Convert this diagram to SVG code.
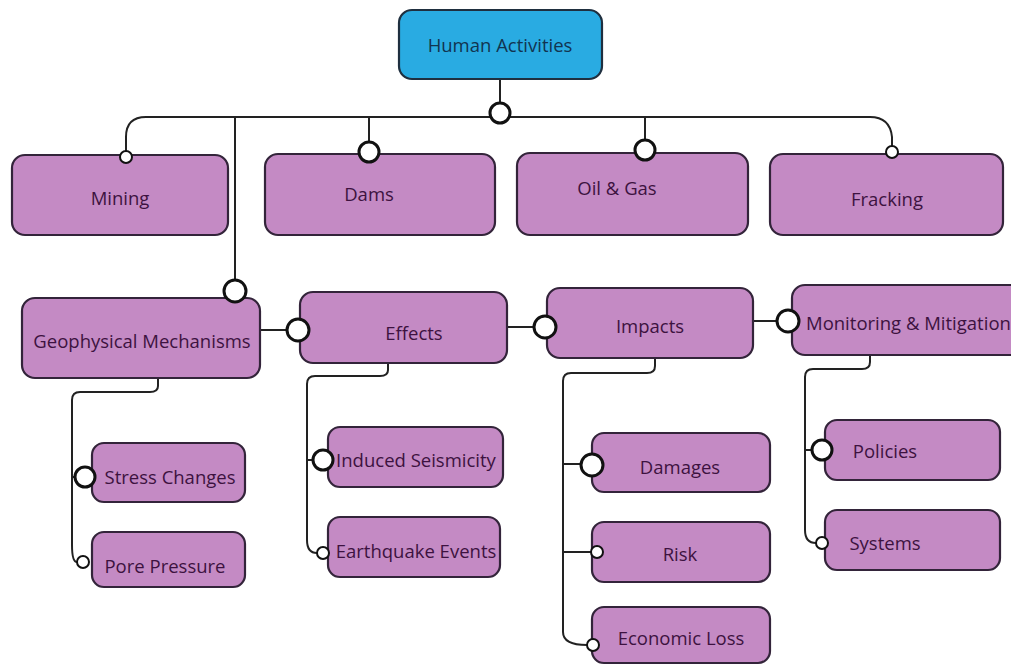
<svg xmlns="http://www.w3.org/2000/svg" width="1011" height="666" viewBox="0 0 1011 666">
<style>
.n{fill:#c48ac4;stroke:#33243a;stroke-width:2.2}
.r{fill:#29abe2;stroke:#1f2f3f;stroke-width:2.2}
.t{font-family:"Open Sans","Noto Sans",sans-serif;font-size:18.5px;fill:#3d1240;text-anchor:middle;dominant-baseline:central}
.th{fill:#123450}
.c{fill:none;stroke:#222;stroke-width:2}
.o{fill:#fff;stroke:#111;stroke-width:3}
.os{fill:#fff;stroke:#111;stroke-width:2}
</style>
<rect width="1011" height="666" fill="#fff"/>
<g id="connectors">
<path class="c" d="M500 79 V103"/>
<path class="c" d="M126 151 V137 Q126 117 146 117 H870 Q890 117 892 137 V146"/>
<path class="c" d="M235 117 V280"/>
<path class="c" d="M369 117 V142"/>
<path class="c" d="M645 117 V140"/>
<path class="c" d="M260 330 H287"/>
<path class="c" d="M507 327 H534"/>
<path class="c" d="M753 321 H777"/>
<path class="c" d="M158 378 V386 Q158 392 150 392 H80 Q72 392 72 400 V545 Q72 562 77 562"/>
<path class="c" d="M72 477 H75"/>
<path class="c" d="M388 363 V370 Q388 376 380 376 H315 Q307 376 307 384 V540 Q307 553 317 553"/>
<path class="c" d="M307 460 H313"/>
<path class="c" d="M655 358 V366 Q655 373 647 373 H571 Q563 373 563 381 V632 Q563 645 587 645"/>
<path class="c" d="M563 464 H581"/>
<path class="c" d="M563 552 H591"/>
<path class="c" d="M870 355 V362 Q870 369 862 369 H813 Q805 369 805 377 V530 Q805 543 816 543"/>
<path class="c" d="M805 450 H812"/>
</g>
<g id="human-activities"><rect class="r" x="399" y="10" width="203" height="69" rx="13"/><text class="t th" x="500" y="44">Human Activities</text></g>
<g id="mining"><rect class="n" x="12" y="155" width="216" height="80" rx="13"/><text class="t" x="120" y="197">Mining</text></g>
<g id="dams"><rect class="n" x="265" y="154" width="230" height="81" rx="13"/><text class="t" x="369" y="193">Dams</text></g>
<g id="oil-gas"><rect class="n" x="517" y="153" width="231" height="82" rx="13"/><text class="t" x="617" y="187">Oil &amp; Gas</text></g>
<g id="fracking"><rect class="n" x="770" y="154" width="233" height="81" rx="13"/><text class="t" x="887" y="198">Fracking</text></g>
<g id="geophysical"><rect class="n" x="22" y="298" width="238" height="80" rx="13"/><text class="t" x="142" y="340">Geophysical Mechanisms</text></g>
<g id="effects"><rect class="n" x="300" y="292" width="207" height="71" rx="13"/><text class="t" x="414" y="332">Effects</text></g>
<g id="impacts"><rect class="n" x="547" y="288" width="206" height="70" rx="13"/><text class="t" x="650" y="325">Impacts</text></g>
<g id="monitoring"><rect class="n" x="792" y="285" width="240" height="70" rx="13"/><text class="t" x="806" y="322" style="text-anchor:start">Monitoring &amp; Mitigation</text></g>
<g id="stress"><rect class="n" x="92" y="443" width="153" height="59" rx="12"/><text class="t" x="170" y="476">Stress Changes</text></g>
<g id="pore"><rect class="n" x="92" y="532" width="153" height="55" rx="12"/><text class="t" x="165" y="565">Pore Pressure</text></g>
<g id="induced"><rect class="n" x="328" y="427" width="175" height="60" rx="12"/><text class="t" x="416" y="459">Induced Seismicity</text></g>
<g id="earthquake"><rect class="n" x="328" y="517" width="172" height="60" rx="12"/><text class="t" x="416" y="550">Earthquake Events</text></g>
<g id="damages"><rect class="n" x="592" y="433" width="178" height="59" rx="12"/><text class="t" x="680" y="466">Damages</text></g>
<g id="risk"><rect class="n" x="592" y="522" width="178" height="60" rx="12"/><text class="t" x="680" y="553">Risk</text></g>
<g id="economic"><rect class="n" x="592" y="607" width="178" height="56" rx="12"/><text class="t" x="681" y="637">Economic Loss</text></g>
<g id="policies"><rect class="n" x="825" y="420" width="175" height="60" rx="12"/><text class="t" x="885" y="450">Policies</text></g>
<g id="systems"><rect class="n" x="825" y="510" width="175" height="60" rx="12"/><text class="t" x="885" y="542">Systems</text></g>
<g id="ports">
<circle class="o" cx="500" cy="113" r="10"/>
<circle class="os" cx="126" cy="157" r="6"/>
<circle class="o" cx="369" cy="152" r="10"/>
<circle class="o" cx="645" cy="150" r="10"/>
<circle class="os" cx="892" cy="152" r="6"/>
<circle class="o" cx="235" cy="291" r="11"/>
<circle class="o" cx="298" cy="330" r="11"/>
<circle class="o" cx="545" cy="327" r="11"/>
<circle class="o" cx="788" cy="321" r="11"/>
<circle class="o" cx="85" cy="477" r="10"/>
<circle class="os" cx="83" cy="562" r="6"/>
<circle class="o" cx="323" cy="460" r="10"/>
<circle class="os" cx="323" cy="553" r="6"/>
<circle class="o" cx="592" cy="465" r="11"/>
<circle class="os" cx="597" cy="552" r="6"/>
<circle class="os" cx="593" cy="645" r="6"/>
<circle class="o" cx="822" cy="450" r="10"/>
<circle class="os" cx="822" cy="543" r="6"/>
</g>
</svg>
